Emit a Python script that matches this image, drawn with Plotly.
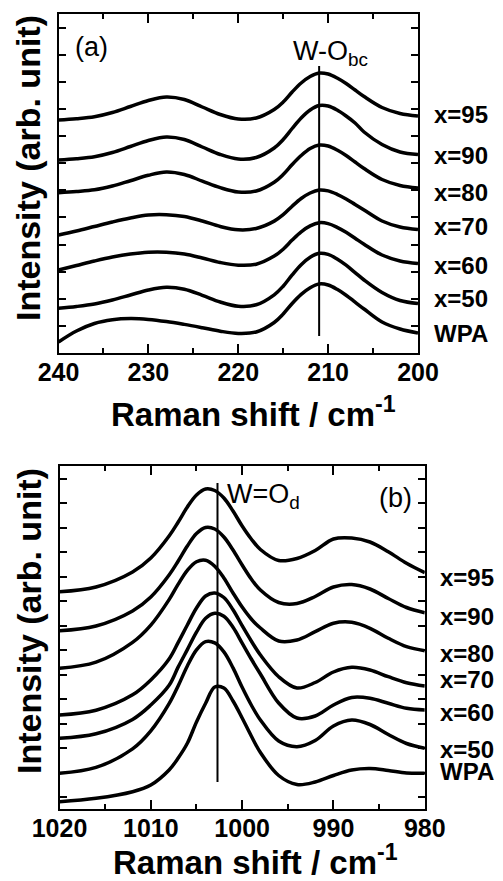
import plotly.graph_objects as go

FONT = "Liberation Sans, Arial, Helvetica, sans-serif"

# ---------------- Panel (a): W-O_bc region ----------------
shift_a = [240, 238, 236, 234, 232, 230, 228, 226, 224, 222, 220, 218, 216, 215, 214,
           213, 212, 211, 210, 209, 208, 207, 206, 204, 202, 200]
a_x95 = [233, 234.3, 236.3, 240.5, 246.5, 252.5, 256, 253.5, 246, 238.5, 234, 235, 243.5, 251,
         261, 270, 276.5, 280, 279, 275, 269.5, 263, 256.5, 245.5, 239.5, 237]
a_x90 = [193, 194.3, 196.3, 200.5, 206.5, 212.5, 216, 213.5, 206, 198.5, 194, 195.5, 205, 213.5,
         224.5, 235, 243, 247.5, 247, 243, 237, 230, 221, 208.5, 201, 198.5]
a_x80 = [160.3, 161.5, 163.2, 167, 172.3, 177.7, 181, 178.5, 171.9, 165.3, 161, 162, 170.8, 178.5,
         188.5, 197.5, 204.5, 208, 207, 203, 197.5, 191, 184.5, 173.5, 167.5, 165]
a_x70 = [118, 122, 126.5, 131, 135, 138, 138.3, 136.5, 132, 126.5, 123.2, 124.5, 131.9, 138.3,
         146.8, 154.5, 160, 163, 162.1, 158.7, 154, 148.5, 143, 132, 126, 123.5]
a_x60 = [83, 87.5, 92, 96, 99, 100.8, 100.8, 99, 95, 90.5, 87.8, 88.8, 96.9, 103.8,
         112.9, 121.2, 127.1, 130.3, 129.4, 125.7, 120.7, 114.8, 108.8, 98, 92, 89.5]
a_x50 = [44.7, 46.5, 49, 53, 58, 63, 65.7, 63.8, 57.7, 51, 46.8, 48.2, 58.2, 66.8,
         78.1, 88.3, 95.7, 99.7, 98.6, 94, 87.8, 80.4, 73, 60.5, 52.5, 49.5]
a_wpa = [11, 22, 29.5, 33.2, 34.4, 33.6, 31.5, 28.6, 25.3, 21.8, 19.6, 21, 30.5, 39,
         49.5, 58.6, 65.3, 69, 68, 63.7, 57.8, 50.9, 44, 31, 24, 20]
series_a = [a_x95, a_x90, a_x80, a_x70, a_x60, a_x50, a_wpa]
labels = ["x=95", "x=90", "x=80", "x=70", "x=60", "x=50", "WPA"]
label_pos_a = [238, 197, 160.5, 126, 87, 54, 19]
peak_a = 211
peak_a_span = [17, 287]

# ---------------- Panel (b): W=O_d region ----------------
shift_b = [1020, 1016, 1012, 1010, 1008, 1007, 1006, 1005, 1004, 1003, 1002, 1001, 1000,
           999, 998, 996, 994, 992, 990, 988, 986, 984, 982, 980]
b_x95 = [217.3, 222, 237, 251, 273, 287, 302, 314, 320, 318.5, 311, 298, 283,
         270, 259.5, 248.5, 250.5, 258.5, 270, 271, 267, 257.3, 245.7, 236.3]
b_x90 = [178.3, 183, 198, 212, 234, 248, 263, 275.5, 281.5, 280, 272, 259, 244,
         230, 219, 206.5, 205.5, 212.5, 222, 224.5, 220, 210.5, 201.5, 196.3]
b_x80 = [140.7, 146.8, 166.6, 183.9, 209.4, 224.9, 238.7, 247.3, 248.8, 242.8, 231.1, 216, 201.9,
         190, 181, 168, 169, 177.3, 185.7, 186.7, 180.7, 170.7, 162.3, 158.3]
b_x70 = [94, 98.8, 114.2, 129.1, 150, 166.6, 184, 201, 213, 216, 211.5, 199.3, 183.3,
         168, 154, 132.3, 121, 126.5, 137, 141.7, 139, 132.3, 126.3, 123]
b_x60 = [70.7, 75.2, 89.6, 104, 123.7, 142.1, 159.4, 176.8, 190.7, 195.7, 192.7, 181.7, 165.9,
         150, 135, 106, 91, 93, 104, 111.5, 110.7, 105.7, 100.7, 99]
b_x50 = [35.7, 41.6, 60.1, 78.1, 105.3, 123.3, 143, 159.1, 167.4, 166.1, 157.1, 141.1, 121.7,
         104, 89, 68, 62.3, 68.5, 83, 89, 84.5, 74.5, 65.5, 60.7]
b_wpa = [7.3, 10.7, 17.3, 24, 39, 51, 65.7, 87, 105.7, 122, 121, 108, 91,
         73, 56.5, 33.5, 24.5, 27, 33.5, 39, 40.5, 38.5, 36, 35.7]
series_b = [b_x95, b_x90, b_x80, b_x70, b_x60, b_x50, b_wpa]
label_pos_b = [231.5, 193, 156, 130, 96.5, 60, 38]
peak_b = 1002.7
peak_b_span = [27, 326]

W, H = 503, 881
fig = go.Figure()

for ys in series_a:
    fig.add_trace(go.Scatter(x=shift_a, y=ys, mode="lines", xaxis="x", yaxis="y",
                             line=dict(color="black", width=3.5, shape="spline", smoothing=1),
                             showlegend=False, hoverinfo="skip"))
fig.add_trace(go.Scatter(x=[peak_a, peak_a], y=peak_a_span, mode="lines", xaxis="x", yaxis="y",
                         line=dict(color="black", width=2), showlegend=False))

for ys in series_b:
    fig.add_trace(go.Scatter(x=shift_b, y=ys, mode="lines", xaxis="x2", yaxis="y2",
                             line=dict(color="black", width=3.5, shape="spline", smoothing=1),
                             showlegend=False, hoverinfo="skip"))
fig.add_trace(go.Scatter(x=[peak_b, peak_b], y=peak_b_span, mode="lines", xaxis="x2", yaxis="y2",
                         line=dict(color="black", width=2), showlegend=False))

tickfont = dict(family=FONT, size=25, color="black", weight="bold")
common_x = dict(showline=True, linecolor="black", linewidth=2, mirror="ticks",
                ticks="inside", ticklen=9, tickwidth=2, tickcolor="black",
                dtick=10, showgrid=False, zeroline=False, tickfont=tickfont,
                ticklabelstandoff=-4, automargin=False,
                minor=dict(ticks="inside", ticklen=5, tickwidth=2, tickcolor="black",
                           dtick=5, showgrid=False))
common_y = dict(showline=True, linecolor="black", linewidth=2, mirror="ticks",
                ticks="inside", ticklen=7, tickwidth=2, tickcolor="black",
                showgrid=False, zeroline=False, showticklabels=False, automargin=False)

fig.update_layout(
    width=W, height=H, margin=dict(l=0, r=0, t=0, b=0, autoexpand=False),
    paper_bgcolor="white", plot_bgcolor="white", showlegend=False,
    xaxis=dict(domain=[58.5 / W, 418 / W], range=[240, 200], tick0=200, anchor="y", **common_x),
    yaxis=dict(domain=[1 - 353 / H, 1 - 14 / H], range=[0, 339], tick0=0, dtick=27.12,
               anchor="x", **common_y),
    xaxis2=dict(domain=[59.5 / W, 424.8 / W], range=[1020, 980], tick0=980, anchor="y2", **common_x),
    yaxis2=dict(domain=[1 - 809 / H, 1 - 466 / H], range=[0, 343], tick0=12, dtick=24.5,
                anchor="x2", **common_y),
)

ann = []
lab_font = dict(family=FONT, size=24, color="black", weight="bold")
for t, v in zip(labels, label_pos_a):
    ann.append(dict(text=t, x=433 / W, xref="paper", y=v, yref="y", xanchor="left",
                    yanchor="middle", showarrow=False, font=lab_font, borderpad=0))
for t, v in zip(labels, label_pos_b):
    ann.append(dict(text=t, x=439 / W, xref="paper", y=v, yref="y2", xanchor="left",
                    yanchor="middle", showarrow=False, font=lab_font, borderpad=0))

reg = dict(family=FONT, size=27, color="black")
ann += [
    dict(text="(a)", x=238.4, y=306, xref="x", yref="y", xanchor="left", yanchor="middle",
         showarrow=False, font=reg),
    dict(text="W-O<sub>bc</sub>", x=214.1, y=300, xref="x", yref="y", xanchor="left",
         yanchor="middle", showarrow=False, font=reg),
    dict(text="(b)", x=985.2, y=311, xref="x2", yref="y2", xanchor="left", yanchor="middle",
         showarrow=False, font=reg),
    dict(text="W=O<sub>d</sub>", x=1001.9, y=313, xref="x2", yref="y2", xanchor="left",
         yanchor="middle", showarrow=False, font=reg),
]

title_font = dict(family=FONT, size=33, color="black", weight="bold")
ytitle_font = dict(family=FONT, size=34, color="black", weight="bold")
ann += [
    dict(text="Raman shift / cm<sup>-1</sup>", x=253 / W, y=1 - 412 / H, xref="paper", yref="paper",
         xanchor="center", yanchor="middle", showarrow=False, font=title_font),
    dict(text="Raman shift / cm<sup>-1</sup>", x=255 / W, y=1 - 860 / H, xref="paper", yref="paper",
         xanchor="center", yanchor="middle", showarrow=False, font=title_font),
    dict(text="Intensity (arb. unit)", x=28 / W, y=1 - 168 / H, xref="paper", yref="paper",
         xanchor="center", yanchor="middle", textangle=-90, showarrow=False, font=ytitle_font),
    dict(text="Intensity (arb. unit)", x=29 / W, y=1 - 621 / H, xref="paper", yref="paper",
         xanchor="center", yanchor="middle", textangle=-90, showarrow=False, font=ytitle_font),
]
fig.update_layout(annotations=ann)

fig.write_html("out.html")
